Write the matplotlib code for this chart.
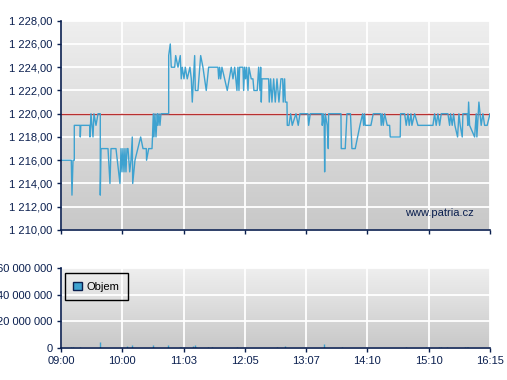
import numpy as np
import matplotlib
matplotlib.use('Agg')
import matplotlib.pyplot as plt
from matplotlib.colors import LinearSegmentedColormap
from matplotlib.patches import Patch
from matplotlib.ticker import FuncFormatter

#================================================
# intraday data (x = position on the session axis, 0..7)

tick_labels = ['09:00', '10:00', '11:03', '12:05', '13:07', '14:10', '15:10', '16:15']

price_x = [0, 0.168, 0.179, 0.196, 0.217, 0.217, 0.310, 0.315, 0.323, 0.468, 0.473, 0.489, 0.522, 0.538,
           0.571, 0.604, 0.641, 0.641, 0.653, 0.767, 0.799, 0.816, 0.897, 0.962, 0.979, 0.995, 1.011,
           1.028, 1.044, 1.060, 1.077, 1.093, 1.121, 1.142, 1.163, 1.170, 1.207, 1.300, 1.338, 1.392,
           1.396, 1.431, 1.485, 1.493, 1.506, 1.517, 1.533, 1.550, 1.571, 1.582, 1.599, 1.615, 1.631,
           1.757, 1.757, 1.783, 1.799, 1.855, 1.871, 1.909, 1.946, 1.962, 1.979, 2.007, 2.028, 2.060,
           2.104, 2.126, 2.142, 2.181, 2.191, 2.235, 2.279, 2.316, 2.370, 2.409, 2.561, 2.573, 2.589,
           2.605, 2.626, 2.713, 2.778, 2.806, 2.834, 2.871, 2.887, 2.904, 2.915, 2.969, 2.980, 2.997,
           3.013, 3.029, 3.051, 3.067, 3.104, 3.132, 3.148, 3.202, 3.225, 3.246, 3.258, 3.268, 3.279,
           3.388, 3.398, 3.421, 3.442, 3.470, 3.496, 3.524, 3.556, 3.589, 3.617, 3.626, 3.649, 3.659,
           3.687, 3.692, 3.719, 3.747, 3.773, 3.834, 3.871, 3.899, 4.029, 4.041, 4.067, 4.258, 4.263,
           4.279, 4.295, 4.302, 4.312, 4.344, 4.361, 4.367, 4.568, 4.573, 4.638, 4.666, 4.723, 4.747,
           4.801, 4.878, 4.922, 4.938, 4.954, 4.964, 5.057, 5.095, 5.215, 5.225, 5.241, 5.258, 5.281,
           5.323, 5.362, 5.372, 5.535, 5.541, 5.607, 5.633, 5.661, 5.682, 5.710, 5.726, 5.770, 5.824,
           6.069, 6.096, 6.122, 6.150, 6.178, 6.204, 6.313, 6.341, 6.357, 6.383, 6.406, 6.427, 6.471,
           6.493, 6.514, 6.547, 6.558, 6.628, 6.639, 6.651, 6.667, 6.749, 6.775, 6.786, 6.819, 6.856,
           6.884, 6.912, 6.954, 7.0]

price_y = [1216, 1216, 1213, 1216, 1216, 1219, 1219, 1218, 1219, 1219, 1218, 1220, 1218, 1220,
           1219, 1220, 1220, 1213, 1217, 1217, 1214, 1217, 1217, 1214, 1217, 1215, 1217,
           1215, 1217, 1215, 1217, 1217, 1215, 1216, 1218, 1214, 1216, 1218, 1217, 1217,
           1216, 1217, 1217, 1218, 1220, 1218, 1220, 1218, 1220, 1219, 1220, 1219, 1220,
           1220, 1225, 1226, 1224, 1224, 1225, 1224, 1225, 1223, 1224, 1223, 1224, 1223,
           1224, 1223, 1221, 1225, 1222, 1222, 1225, 1224, 1222, 1224, 1224, 1223, 1224,
           1223, 1224, 1222, 1224, 1223, 1224, 1222, 1224, 1222, 1224, 1224, 1222, 1224,
           1223, 1224, 1222, 1224, 1223, 1223, 1222, 1222, 1224, 1222, 1224, 1221, 1223,
           1223, 1221, 1223, 1221, 1223, 1221, 1223, 1221, 1223, 1223, 1221, 1223, 1221,
           1221, 1219, 1219, 1220, 1219, 1220, 1219, 1220, 1220, 1219, 1220, 1220, 1219,
           1220, 1219, 1215, 1220, 1219, 1217, 1220, 1220, 1217, 1217, 1220, 1220, 1217,
           1217, 1219, 1220, 1219, 1220, 1219, 1219, 1220, 1220, 1219, 1220, 1219, 1220,
           1219, 1219, 1218, 1218, 1220, 1220, 1219, 1220, 1219, 1220, 1219, 1220, 1219,
           1219, 1220, 1219, 1220, 1219, 1220, 1220, 1219, 1220, 1219, 1220, 1219, 1218,
           1220, 1219, 1218, 1220, 1220, 1219, 1221, 1219, 1218, 1220, 1218, 1221, 1219,
           1220, 1219, 1219, 1220]

prev_close = 1220

vol_x = [0.163, 0.191, 0.310, 0.636, 1.082, 1.163, 1.506, 1.750, 1.941, 1.962, 2.153, 2.186, 2.202,
         2.398, 2.463, 2.866, 3.519, 3.654, 4.290, 4.579, 5.628, 5.954, 6.171, 6.194, 6.292, 6.591,
         6.619, 6.639]
vol_y = [1.0, 1.0, 1.0, 4.7, 1.5, 2.0, 2.0, 2.0, 1.0, 1.0, 1.5, 2.0, 1.0,
         1.0, 1.0, 1.0, 1.0, 1.5, 3.3, 1.0, 1.0, 1.0, 1.0, 1.0, 1.0, 1.0,
         1.0, 1.0]   # millions

#================================================

navy = '#0a1f4f'
blue = '#3ea2d0'
plt.rcParams['font.family'] = ['Liberation Sans', 'DejaVu Sans']
plt.rcParams['font.size'] = 8

bg = LinearSegmentedColormap.from_list('bg', ['#c8c8c8', '#efefef'])
grad = np.linspace(0, 1, 256).reshape(-1, 1)

fig = plt.figure(figsize=(5.07, 3.80), dpi=100)
ax = fig.add_axes([61/507, 150/380, 429/507, 209.3/380])
axv = fig.add_axes([61/507, 32/380, 429/507, 80/380])


def style(a, ymin, ymax):
    a.imshow(grad, extent=[0, 7, ymin, ymax], aspect='auto', cmap=bg, origin='lower', zorder=0)
    a.set_xlim(0, 7)
    a.set_ylim(ymin, ymax)
    a.set_axisbelow(True)
    a.grid(True, color='white', linewidth=1.3)
    for s in ['top', 'right']:
        a.spines[s].set_visible(False)
    for s in ['left', 'bottom']:
        a.spines[s].set_color(navy)
        a.spines[s].set_linewidth(1.2)
    a.tick_params(colors=navy, length=3, width=1, pad=3, labelcolor=navy)
    a.set_xticks(np.arange(8))


# price chart
style(ax, 1210, 1228)
ax.set_yticks(np.arange(1210, 1229, 2))
ax.yaxis.set_major_formatter(FuncFormatter(lambda v, p: '1 %03d,00' % (v - 1000)))
ax.set_xticklabels([])
ax.axhline(prev_close, color='#b83030', linewidth=1, zorder=1)
ax.plot(price_x, price_y, color=blue, linewidth=1, zorder=2)
ax.text(0.961, 0.08, 'www.patria.cz', transform=ax.transAxes, ha='right', va='center',
        color=navy, fontsize=8)

# volume chart
style(axv, 0, 60)
axv.set_yticks([0, 20, 40, 60])
axv.yaxis.set_major_formatter(FuncFormatter(lambda v, p: '0' if v == 0 else '%d 000 000' % v))
axv.set_xticklabels(tick_labels)
axv.vlines(vol_x, 0, vol_y, color=blue, linewidth=1, zorder=2)
leg = axv.legend(handles=[Patch(facecolor=blue, edgecolor=navy, label='Objem')],
                 loc='upper left', bbox_to_anchor=(0.009, 0.934), borderaxespad=0,
                 fancybox=False, edgecolor='black', handlelength=0.8,
                 handleheight=0.8, handletextpad=0.4, borderpad=0.75, fontsize=8)
leg.get_frame().set_facecolor('none')
leg.get_frame().set_alpha(None)
leg.get_frame().set_linewidth(1)

fig.savefig('out.png', dpi=100)
